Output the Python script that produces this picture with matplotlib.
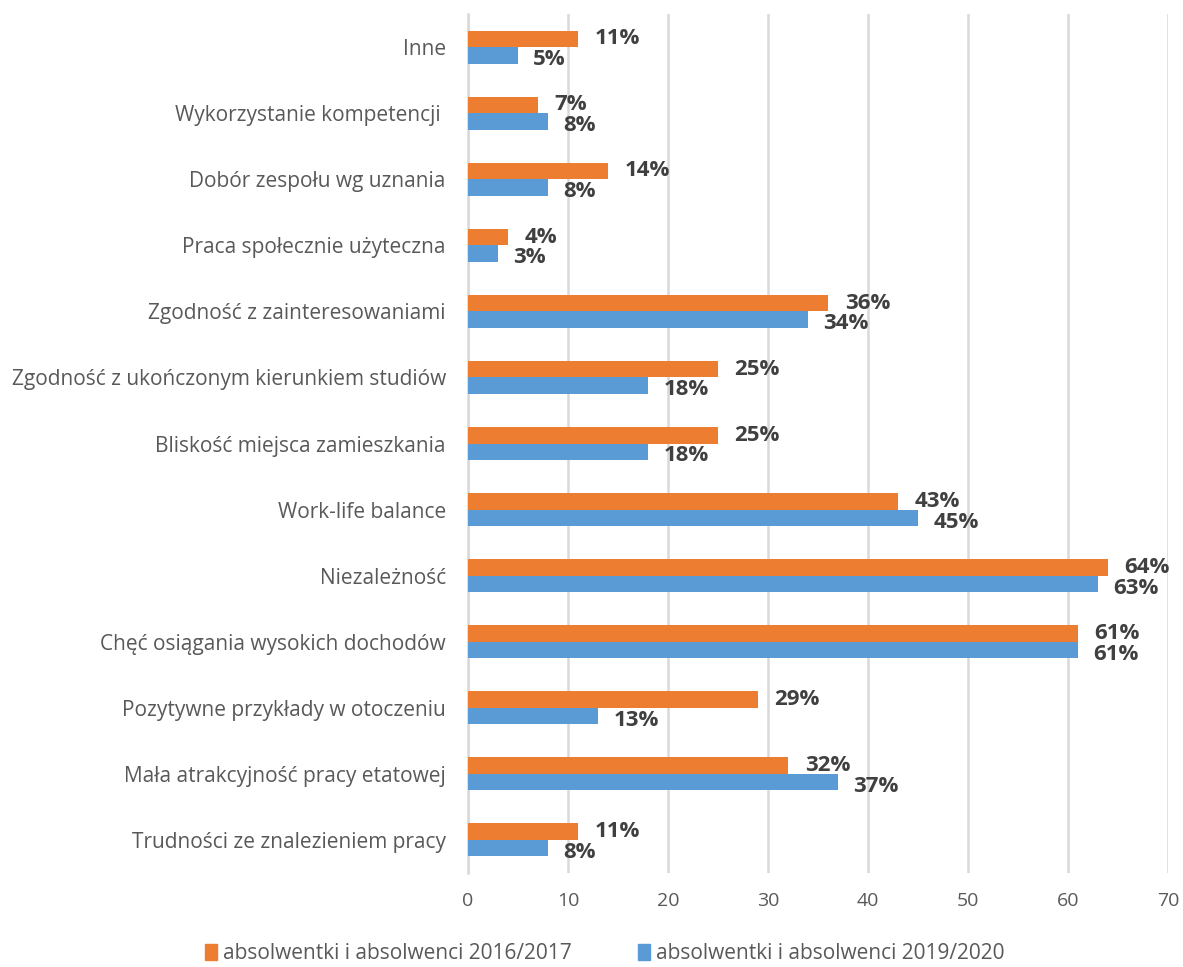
import matplotlib.pyplot as plt
import numpy as np
from matplotlib.patches import Patch

plt.rcParams['font.family'] = ['Open Sans', 'DejaVu Sans']

categories = ['Inne', 'Wykorzystanie kompetencji ', 'Dobór zespołu wg uznania',
              'Praca społecznie użyteczna', 'Zgodność z zainteresowaniami',
              'Zgodność z ukończonym kierunkiem studiów', 'Bliskość miejsca zamieszkania',
              'Work-life balance', 'Niezależność', 'Chęć osiągania wysokich dochodów',
              'Pozytywne przykłady w otoczeniu', 'Mała atrakcyjność pracy etatowej',
              'Trudności ze znalezieniem pracy']
vals_2017 = [11, 7, 14, 4, 36, 25, 25, 43, 64, 61, 29, 32, 11]
vals_2020 = [5, 8, 8, 3, 34, 18, 18, 45, 63, 61, 13, 37, 8]
series_names = ['absolwentki i absolwenci 2016/2017', 'absolwentki i absolwenci 2019/2020']
xticks = [0, 10, 20, 30, 40, 50, 60, 70]

orange = '#ED7D31'
blue = '#5B9BD5'
lab_col = '#404040'
txt_col = '#595959'

fig = plt.figure(figsize=(11.83, 9.67), dpi=100)
ax = fig.add_axes([0.3956, 0.0972, 0.5917, 0.8883])

y = np.arange(len(categories))
h = 0.25
ax.barh(y - h / 2, vals_2017, height=h, color=orange, zorder=3)
ax.barh(y + h / 2, vals_2020, height=h, color=blue, zorder=3)

for i, (a, b) in enumerate(zip(vals_2017, vals_2020)):
    ax.annotate(f'{a}%', (a, i - h / 2), xytext=(12, 0), textcoords='offset points',
                va='center', ha='left', fontsize=16, fontweight='bold', color=lab_col, zorder=4)
    ax.annotate(f'{b}%', (b, i + h / 2), xytext=(11, -3), textcoords='offset points',
                va='center', ha='left', fontsize=16, fontweight='bold', color=lab_col, zorder=4)

ax.set_ylim(len(categories) - 0.5, -0.5)
ax.set_xlim(0, 70)
ax.set_yticks(y)
ax.set_yticklabels(categories, fontsize=15, color=txt_col)
ax.set_xticks(xticks)
ax.set_xticklabels([str(t) for t in xticks], fontsize=14, color=txt_col)
ax.tick_params(axis='both', length=0)
ax.tick_params(axis='y', pad=16)
ax.tick_params(axis='x', pad=14)
ax.grid(axis='x', color='#d9d9d9', linewidth=1.8, zorder=0)
for s in ['top', 'right', 'bottom']:
    ax.spines[s].set_visible(False)
ax.spines['left'].set_color('#d9d9d9')
ax.spines['left'].set_linewidth(1.8)

handles = [Patch(color=orange), Patch(color=blue)]
fig.legend(handles, series_names, loc='center', bbox_to_anchor=(0.511, 0.014), ncol=2,
           frameon=False, fontsize=15, labelcolor=txt_col, handlelength=0.6,
           handleheight=0.8, handletextpad=0.25, columnspacing=3.2)

fig.savefig('out.png', dpi=100)
